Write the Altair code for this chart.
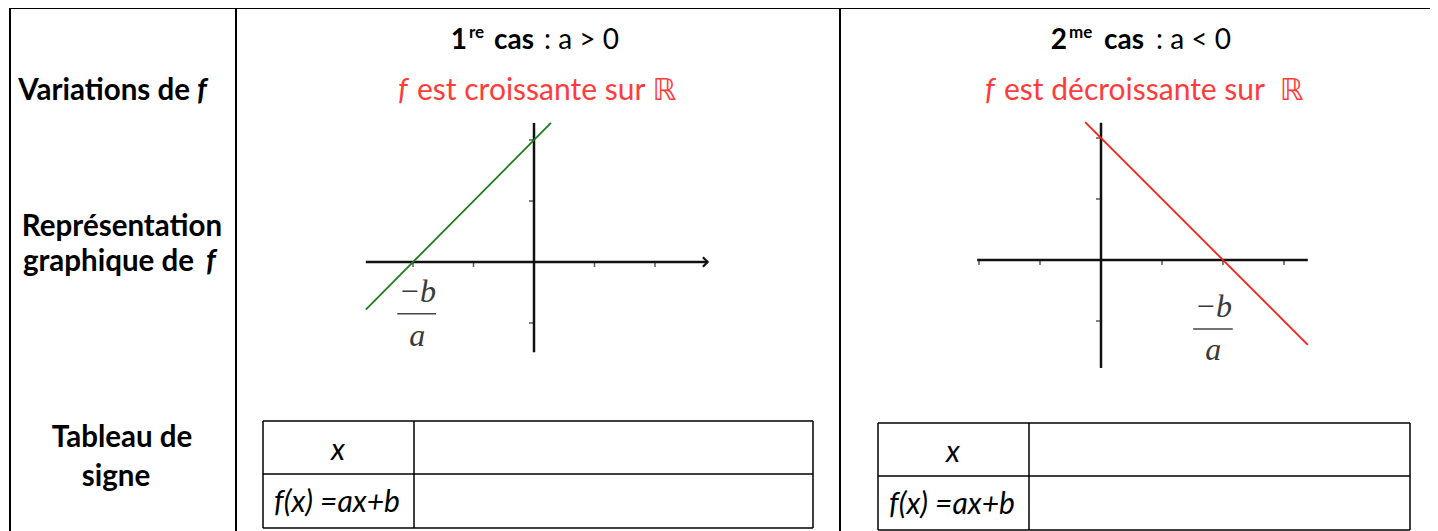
import altair as alt
import pandas as pd

# ---------------- content ----------------
ROW_LABELS = ["Variations de", "Représentation", "graphique de", "Tableau de", "signe"]
ROW_F = "f"
CASE_NUMS = ["1", "2"]
CASE_SUPS = ["re", "me"]
CASE_WORD = "cas"
CASE_CONDS = [": a > 0", ": a < 0"]
VARIATION_F = "f"
VARIATION_TEXT = ["est croissante sur ℝ", "est décroissante sur \u00a0ℝ"]
SIGN_ROWS = ["x", "f(x) =ax+b"]
FRAC_NUM = "−b"
FRAC_DEN = "a"

# graph 1 (a > 0), in graph units
G1_XTICKS = [-2, -1, 1, 2]
G1_YTICKS = [-1, 1, 2]
G1_XAXIS = [-2.78, 2.87]
G1_YAXIS = [-1.48, 2.28]
G1_LINE_X = [-2.78, 0.28]
G1_LINE_Y = [-0.78, 2.28]

# graph 2 (a < 0), in graph units
G2_XTICKS = [-2, -1, 1, 2, 3]
G2_YTICKS = [-1, 1, 2]
G2_XAXIS = [-2.03, 3.39]
G2_YAXIS = [-1.77, 2.25]
G2_LINE_X = [-0.26, 3.39]
G2_LINE_Y = [2.26, -1.39]

# ---------------- layout ----------------
OFF = 8
W, H = 1422, 523
PX = alt.Scale(domain=[OFF, OFF + W], range=[0, W], zero=False, nice=False)
PY = alt.Scale(domain=[OFF, OFF + H], range=[0, H], zero=False, nice=False)

SANS = "Lato, DejaVu Sans"
SERIF = "Liberation Serif, DejaVu Serif"
RED_TXT = "#ff3b3b"
LBL = 29.5
TTL = 28
RED = 30
SGN = 30


def text_layer(texts, xs, ys, **mark):
    df = pd.DataFrame({"t": texts, "x": xs, "y": ys})
    return alt.Chart(df).mark_text(**mark).encode(
        x=alt.X("x:Q", scale=PX, axis=None),
        y=alt.Y("y:Q", scale=PY, axis=None),
        text="t:N",
    )


def seg_layer(segs, width, color="black"):
    df = pd.DataFrame(segs, columns=["x", "y", "x2", "y2"])
    return alt.Chart(df).mark_rule(strokeWidth=width, color=color).encode(
        x=alt.X("x:Q", scale=PX, axis=None), x2="x2:Q",
        y=alt.Y("y:Q", scale=PY, axis=None), y2="y2:Q",
    )


layers = []

# outer table grid
layers.append(seg_layer([
    (10, 8, 1430, 8),
    (10, 8, 10, 531),
    (236, 8, 236, 531),
    (840, 8, 840, 531),
], 2))

# sign tables
layers.append(seg_layer([
    (263, 421, 813, 421), (263, 474, 813, 474), (263, 528, 813, 528),
    (263, 421, 263, 528), (414, 421, 414, 528), (813, 421, 813, 528),
    (878, 423, 1410, 423), (878, 476, 1410, 476), (878, 530, 1410, 530),
    (878, 423, 878, 530), (1029, 423, 1029, 530), (1410, 423, 1410, 530),
], 1.5))

# left column labels
common_b = dict(font=SANS, fontSize=LBL, fontWeight="bold", color="black", baseline="middle")
layers.append(text_layer([ROW_LABELS[0]], [190], [91], align="right", **common_b))
layers.append(text_layer([ROW_F], [197], [91], align="left", fontStyle="italic", **common_b))
layers.append(text_layer([ROW_LABELS[1]], [122], [227], align="center", **common_b))
layers.append(text_layer([ROW_LABELS[2]], [194], [262], align="right", **common_b))
layers.append(text_layer([ROW_F], [206], [262], align="left", fontStyle="italic", **common_b))
layers.append(text_layer([ROW_LABELS[3], ROW_LABELS[4]], [122, 116], [438, 477], align="center", **common_b))

# case titles
layers.append(text_layer(CASE_NUMS, [467, 1067], [41, 41], align="right", font=SANS, fontSize=TTL,
                         fontWeight="bold", color="black", baseline="middle"))
layers.append(text_layer(CASE_SUPS, [469, 1069], [33, 33], align="left", font=SANS, fontSize=17,
                         fontWeight="bold", color="black", baseline="middle"))
layers.append(text_layer([CASE_WORD, CASE_WORD], [494, 1104], [41, 41], align="left", font=SANS,
                         fontSize=TTL, fontWeight="bold", color="black", baseline="middle"))
layers.append(text_layer(CASE_CONDS, [544, 1156], [41, 41], align="left", font=SANS, fontSize=TTL,
                         color="black", baseline="middle"))

# variation sentences
layers.append(text_layer([VARIATION_F, VARIATION_F], [398, 985], [91, 91], align="left", font=SANS,
                         fontSize=RED, fontStyle="italic", color=RED_TXT, baseline="middle"))
layers.append(text_layer(VARIATION_TEXT, [417, 1004], [91, 91], align="left", font=SANS,
                         fontSize=RED, color=RED_TXT, baseline="middle"))

# sign table texts
layers.append(text_layer(SIGN_ROWS + SIGN_ROWS, [338, 337, 953, 952], [451, 503, 453, 505],
                         align="center", font=SANS, fontSize=SGN, fontStyle="italic",
                         color="black", baseline="middle"))


def graph(ox, oy, ux, uy, xticks, yticks, xaxis, yaxis, lx, ly, color, frac, arrow):
    SX = alt.Scale(domain=[0, 1], range=[ox - OFF, ox - OFF + ux], zero=False, nice=False)
    SY = alt.Scale(domain=[0, 1], range=[oy - OFF, oy - OFF - uy], zero=False, nice=False)
    out = []
    axes = pd.DataFrame({"x": [xaxis[0], 0], "x2": [xaxis[1], 0],
                         "y": [0, yaxis[0]], "y2": [0, yaxis[1]]})
    out.append(alt.Chart(axes).mark_rule(strokeWidth=2.5, color="#111").encode(
        x=alt.X("x:Q", scale=SX, axis=None), x2="x2:Q",
        y=alt.Y("y:Q", scale=SY, axis=None), y2="y2:Q"))
    xt = pd.DataFrame({"x": xticks, "y": [0] * len(xticks)})
    out.append(alt.Chart(xt).mark_tick(orient="vertical", size=6, thickness=1.5, color="#111",
                                       yOffset=2).encode(
        x=alt.X("x:Q", scale=SX, axis=None), y=alt.Y("y:Q", scale=SY, axis=None)))
    yt = pd.DataFrame({"x": [0] * len(yticks), "y": yticks})
    out.append(alt.Chart(yt).mark_tick(orient="horizontal", size=6, thickness=1.5, color="#111",
                                       xOffset=-2).encode(
        x=alt.X("x:Q", scale=SX, axis=None), y=alt.Y("y:Q", scale=SY, axis=None)))
    if arrow:
        ar = pd.DataFrame({"x": [xaxis[1]], "y": [0]})
        out.append(alt.Chart(ar).mark_point(shape="M -1 -1 L 0 0 L -1 1", filled=False,
                                            strokeWidth=2.2, size=90, color="#111", opacity=1).encode(
            x=alt.X("x:Q", scale=SX, axis=None), y=alt.Y("y:Q", scale=SY, axis=None)))
    ln = pd.DataFrame({"x": lx, "y": ly})
    out.append(alt.Chart(ln).mark_line(strokeWidth=1.8, color=color).encode(
        x=alt.X("x:Q", scale=SX, axis=None), y=alt.Y("y:Q", scale=SY, axis=None)))
    cx, ny, by, dy, bx0, bx1 = frac
    ft = pd.DataFrame({"t": [FRAC_NUM, FRAC_DEN], "x": [cx, cx], "y": [ny, dy]})
    out.append(alt.Chart(ft).mark_text(font=SERIF, fontSize=32, fontStyle="italic", color="#3a3a3a",
                                       align="center", baseline="middle").encode(
        x=alt.X("x:Q", scale=SX, axis=None), y=alt.Y("y:Q", scale=SY, axis=None), text="t:N"))
    fb = pd.DataFrame({"x": [bx0], "x2": [bx1], "y": [by]})
    out.append(alt.Chart(fb).mark_rule(strokeWidth=1.5, color="#444").encode(
        x=alt.X("x:Q", scale=SX, axis=None), x2="x2:Q",
        y=alt.Y("y:Q", scale=SY, axis=None)))
    return out


layers += graph(534, 262, 60.5, 61, G1_XTICKS, G1_YTICKS, G1_XAXIS, G1_YAXIS,
                G1_LINE_X, G1_LINE_Y, "#1e7b1e", (-1.93, -0.49, -0.85, -1.21, -2.26, -1.62), True)
layers += graph(1101, 260, 61, 61, G2_XTICKS, G2_YTICKS, G2_XAXIS, G2_YAXIS,
                G2_LINE_X, G2_LINE_Y, "#ff1a1a", (1.84, -0.77, -1.13, -1.48, 1.51, 2.16), False)

chart = alt.layer(*layers).resolve_scale(x="independent", y="independent").properties(
    width=W, height=H, padding=0, autosize=alt.AutoSizeParams(type="none"),
    background="white",
).configure_view(strokeWidth=0)

chart.save("out.html", embed_options={"renderer": "svg", "actions": False})
